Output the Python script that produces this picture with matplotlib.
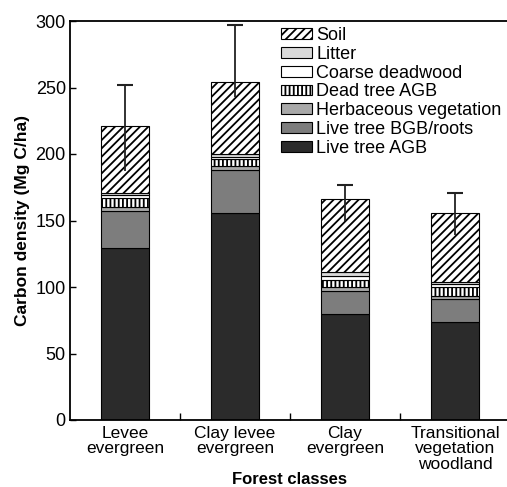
import numpy as np
import matplotlib
matplotlib.use("Agg")
import matplotlib.pyplot as plt

plt.rcParams['font.family'] = ['Liberation Sans', 'DejaVu Sans']
plt.rcParams['hatch.linewidth'] = 1.3

classes = ["Levee\nevergreen", "Clay levee\nevergreen", "Clay\nevergreen",
           "Transitional\nvegetation\nwoodland"]

# stacked pools, bottom to top (Mg C/ha)
live_agb = [129, 156, 80, 74]
live_bgb = [28, 32, 17, 17]
herb = [3, 3, 3, 2]
dead_agb = [7, 5, 5, 7]
coarse = [2, 2, 3, 2]
litter = [2, 2, 3, 2]
soil = [50, 54, 55, 52]

# error bar ends
err_low = [187, 243, 150, 139]
err_high = [252, 297, 177, 171]

layers = [
    ("Live tree AGB", live_agb, "#2b2b2b", None),
    ("Live tree BGB/roots", live_bgb, "#7d7d7d", None),
    ("Herbaceous vegetation", herb, "#a8a8a8", None),
    ("Dead tree AGB", dead_agb, "white", "||||"),
    ("Coarse deadwood", coarse, "white", None),
    ("Litter", litter, "#d9d9d9", None),
    ("Soil", soil, "white", "////"),
]

fig = plt.figure(figsize=(5.07, 4.87), dpi=100)
ax = fig.add_axes([70/507, 67/487, 440/507, 399/487])

x = np.arange(len(classes))
bottom = np.zeros(len(classes))
handles = []
for name, vals, col, hatch in layers:
    b = ax.bar(x, vals, 0.44, bottom=bottom, color=col, edgecolor="black",
               linewidth=0.8, hatch=hatch, label=name)
    handles.append(b)
    bottom = bottom + np.array(vals)

ax.vlines(x, err_low, err_high, color="#222222", linewidth=1.3, zorder=5)
ax.plot(x, err_high, linestyle="none", marker="_", markersize=11,
        markeredgewidth=1.5, color="#222222", zorder=5)

ax.set_xlim(-0.5, 3.5)
ax.set_ylim(0, 300)
ax.set_yticks([0, 50, 100, 150, 200, 250, 300])
ax.tick_params(axis="y", direction="in", length=4, width=1, pad=3, labelsize=13)
ax.set_xticks(x)
ax.set_xticklabels(classes, fontsize=12.5, linespacing=1.05)
ax.tick_params(axis="x", length=0, pad=4)
ax.set_xticks([0.5, 1.5, 2.5], minor=True)
ax.tick_params(axis="x", which="minor", direction="in", length=5, width=1)
for s in ax.spines.values():
    s.set_linewidth(1.3)

ax.set_ylabel("Carbon density (Mg C/ha)", fontsize=12.5, fontweight="bold",
              labelpad=4)
ax.set_xlabel("Forest classes", fontsize=12, fontweight="bold", labelpad=0)

ax.legend(handles[::-1], [l[0] for l in layers][::-1], loc="upper left",
          bbox_to_anchor=(281/507, 1 - 27/487), bbox_transform=fig.transFigure,
          frameon=False, fontsize=13, labelspacing=0.1, handlelength=1.7,
          handleheight=0.55, handletextpad=0.25, borderpad=0, borderaxespad=0)

fig.savefig("out.png", dpi=100)
